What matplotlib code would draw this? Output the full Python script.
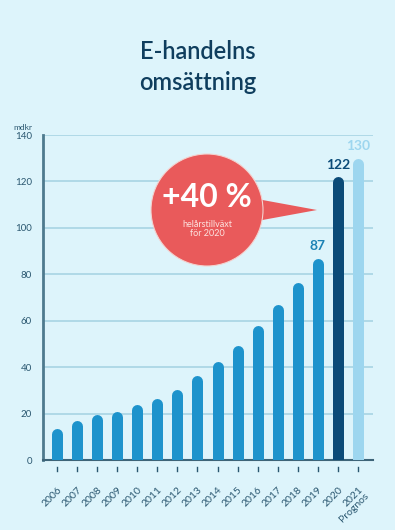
import numpy as np
import matplotlib
matplotlib.use('Agg')
import matplotlib.pyplot as plt
from matplotlib.patches import Polygon, Ellipse

# data (mdkr)
years = ['2006', '2007', '2008', '2009', '2010', '2011', '2012', '2013',
         '2014', '2015', '2016', '2017', '2018', '2019', '2020', '2021\nPrognos']
values = [13.5, 17, 19.5, 21, 24, 26.5, 30.5, 36.5, 42.5, 49.5, 58, 67, 76.5, 87, 122, 130]
labelled = {13: '87', 14: '122', 15: '130'}

bg = '#ddf4fb'
blue = '#1d93cc'
navy = '#0b4b78'
light = '#9dd6ef'
dark = '#2a5770'
grid_c = '#a7d4e3'
red = '#e95a5b'

plt.rcParams['font.family'] = ['Lato', 'DejaVu Sans']

fig = plt.figure(figsize=(3.95, 5.3), dpi=100, facecolor=bg)
ax = fig.add_axes([43 / 395, 1 - 460 / 530, 330 / 395, 325 / 530])
ax.set_facecolor(bg)

x = np.arange(len(years))
colors = [blue] * 14 + [navy, light]

# bars as lines with round top caps
px_per_unit = 325 / 140
r = 5.5 / px_per_unit
for xi, v, c in zip(x, values, colors):
    ax.plot([xi, xi], [-r, v - r], color=c, lw=11 * 72 / 100,
            solid_capstyle='round', zorder=3)

ax.set_xlim(-0.7, 15.75)
ax.set_ylim(0, 140)
ax.set_yticks(range(0, 141, 20))
ax.yaxis.grid(True, color=grid_c, lw=1.2)
ax.set_axisbelow(True)
ax.tick_params(axis='y', length=0, pad=8, labelsize=7, labelcolor=dark)
ax.set_xticks(x)
ax.set_xticklabels(years, rotation=45, ha='right', va='top',
                   rotation_mode='anchor', fontsize=7.5, color=dark, linespacing=1.0)
ax.tick_params(axis='x', length=0, pad=18)
for xi in x:
    ax.plot([xi, xi], [-3.0, -4.6], color=dark, lw=1, clip_on=False)

for s in ['top', 'right']:
    ax.spines[s].set_visible(False)
ax.spines['left'].set_color('#4e7a8e')
ax.spines['left'].set_linewidth(2)
ax.spines['bottom'].set_color('#3d6478')
ax.spines['bottom'].set_linewidth(1.5)

label_colors = {13: '#1b82b5', 14: navy, 15: light}
for i, t in labelled.items():
    ax.text(x[i], values[i] + 2.5, t, ha='center', va='bottom', fontsize=10,
            fontweight='bold', color=label_colors[i])

# speech bubble
cx, cy = 207 / 395, 1 - 210 / 530
rad = 56 / 395
aspect = 395 / 530
tri = Polygon([[257 / 395, 1 - 199 / 530], [317 / 395, 1 - 210 / 530],
               [257 / 395, 1 - 221 / 530]], closed=True,
              transform=fig.transFigure, facecolor=red, edgecolor='none', zorder=5)
fig.patches.append(tri)
circ = Ellipse((cx, cy), 2 * rad, 2 * rad * aspect, transform=fig.transFigure,
               facecolor=red, edgecolor='#f3d3d0', lw=0.8, zorder=6)
fig.patches.append(circ)
fig.text(cx, 1 - 198 / 530, '+40 %', ha='center', va='center', fontsize=23,
         fontweight='bold', color='white', zorder=7)
fig.text(cx, 1 - 229 / 530, 'helårstillväxt\nför 2020', ha='center', va='center',
         fontsize=6.5, color='#fde3e0', linespacing=1.1, zorder=7)

fig.text(13 / 395, 1 - 127 / 530, 'mdkr', fontsize=6, color=dark, va='center')
fig.text(0.5, 1 - 67 / 530, 'E-handelns\nomsättning', ha='center', va='center',
         fontsize=17, fontweight='semibold', color='#0f3e5e', linespacing=1.4)

fig.savefig('out.png', dpi=100, facecolor=bg)
